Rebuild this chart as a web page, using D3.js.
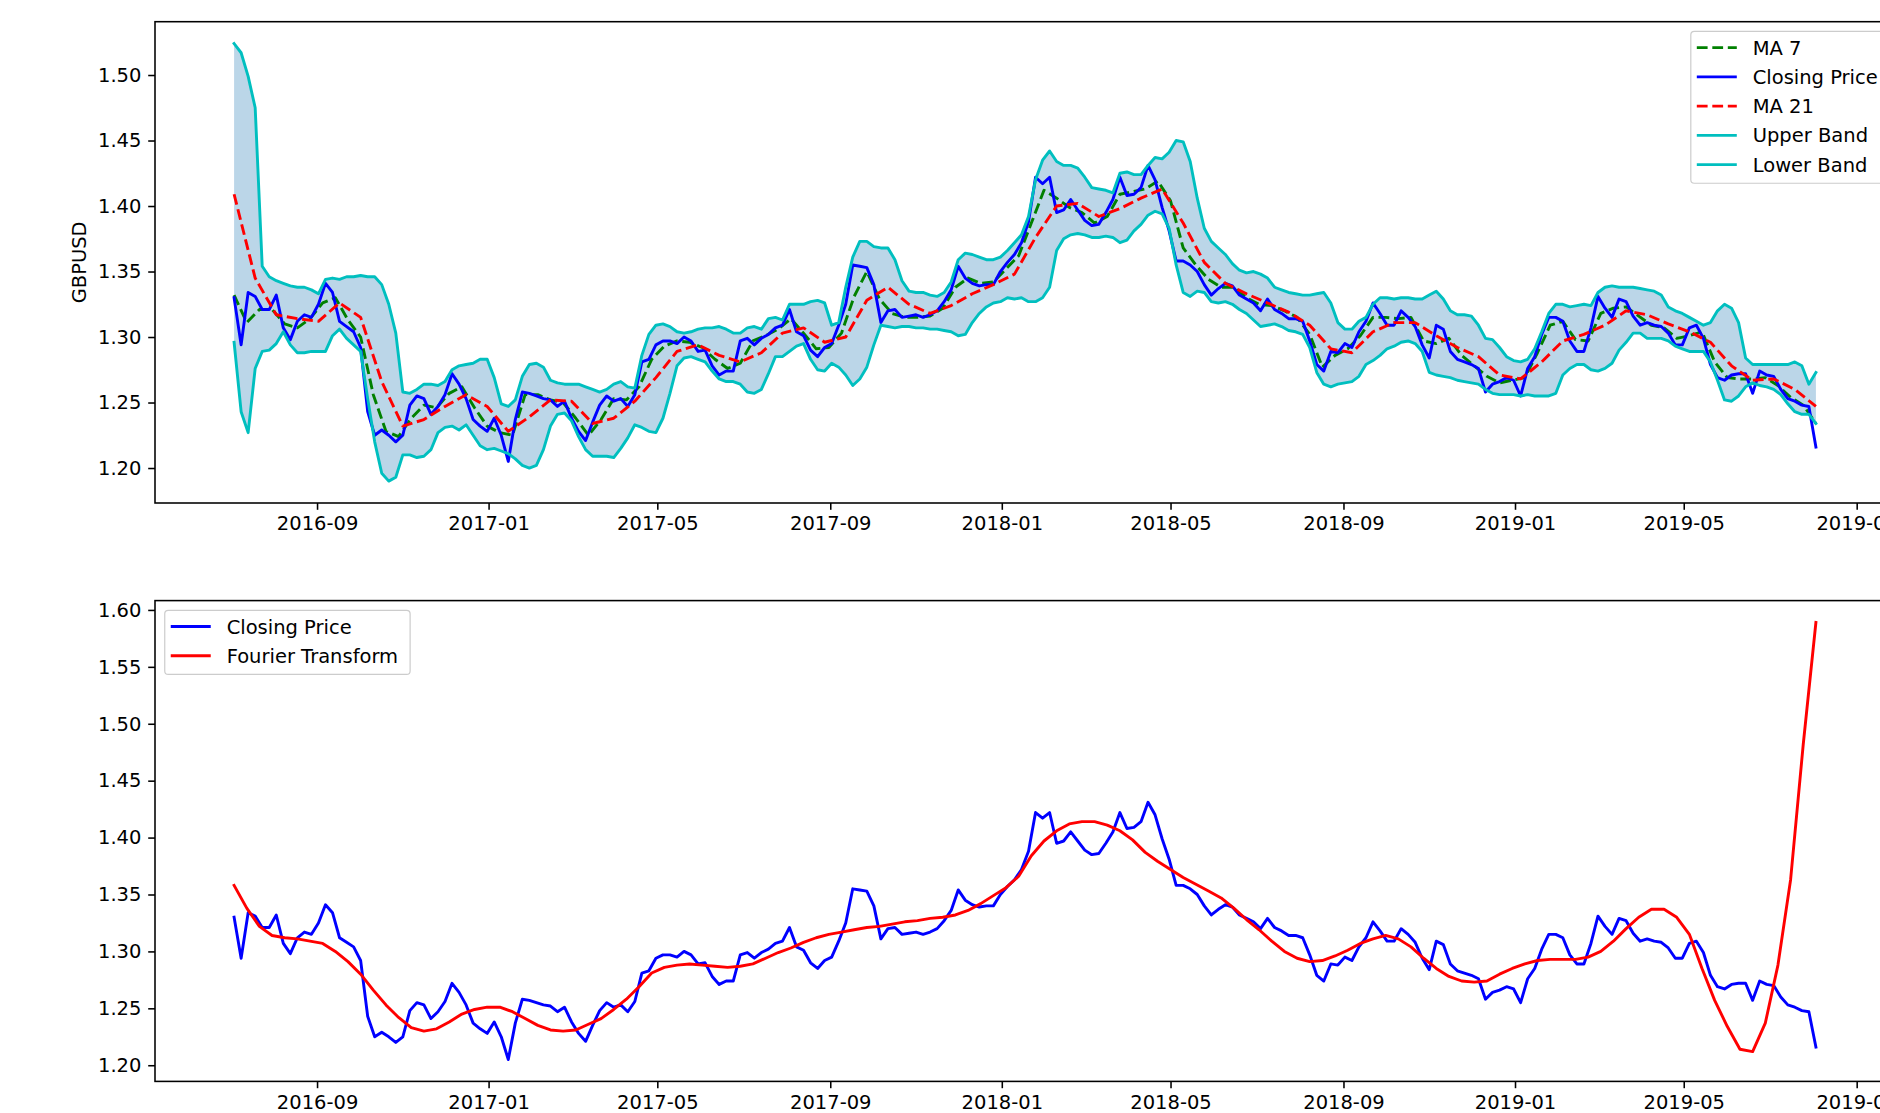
<!DOCTYPE html>
<html>
<head>
<meta charset="utf-8">
<script src="https://cdn.jsdelivr.net/npm/d3@7"></script>
<style>
  html, body { margin: 0; padding: 0; background: #fff; }
  svg { display: block; }
  text { font-family: "DejaVu Sans", sans-serif; fill: #000; }
</style>
</head>
<body>
<svg id="chart" width="1880" height="1113"></svg>
<script>
// ---------------------------------------------------------------
// GBPUSD daily series, sampled on regular calendar-day grids that
// all begin on the first trading day shown.
// ---------------------------------------------------------------
const seriesStart = "2016-07-04";
const closeStep = 5;     // days between closing-price / band samples
const ma7Step = 9;       // days between MA 7 samples
const ma21Step = 15;     // days between MA 21 samples
const fourierStep = 9;   // days between Fourier-transform samples

const closePrice = [
  1.330, 1.294, 1.334, 1.331, 1.321, 1.321, 1.332, 1.307, 1.298, 1.312,
  1.317, 1.315, 1.325, 1.341, 1.334, 1.312, 1.308, 1.304, 1.292, 1.243,
  1.225, 1.229, 1.225, 1.220, 1.225, 1.248, 1.255, 1.253, 1.241, 1.247,
  1.256, 1.272, 1.264, 1.253, 1.237, 1.232, 1.228, 1.238, 1.225, 1.205,
  1.237, 1.258, 1.257, 1.255, 1.253, 1.252, 1.247, 1.251, 1.238, 1.228,
  1.221, 1.235, 1.248, 1.255, 1.251, 1.253, 1.247, 1.256, 1.281, 1.283,
  1.294, 1.297, 1.297, 1.295, 1.300, 1.297, 1.289, 1.290, 1.278, 1.271,
  1.274, 1.274, 1.297, 1.299, 1.294, 1.299, 1.302, 1.307, 1.309, 1.321,
  1.304, 1.301, 1.290, 1.285, 1.292, 1.295, 1.309, 1.325, 1.355, 1.354,
  1.353, 1.340, 1.311, 1.320, 1.321, 1.315, 1.316, 1.317, 1.315, 1.317,
  1.320, 1.327, 1.336, 1.354, 1.345, 1.341, 1.339, 1.340, 1.340, 1.350,
  1.357, 1.363, 1.372, 1.388, 1.422, 1.417, 1.422, 1.395, 1.397, 1.405,
  1.397, 1.389, 1.385, 1.386, 1.395, 1.405, 1.422, 1.408, 1.409, 1.414,
  1.431, 1.420, 1.399, 1.381, 1.358, 1.358, 1.355, 1.350, 1.340, 1.332,
  1.337, 1.341, 1.339, 1.332, 1.329, 1.326, 1.320, 1.329, 1.321, 1.318,
  1.314, 1.314, 1.312, 1.297, 1.279, 1.274, 1.289, 1.288, 1.295, 1.292,
  1.304, 1.312, 1.326, 1.318, 1.309, 1.309, 1.320, 1.315, 1.308, 1.294,
  1.284, 1.309, 1.306, 1.289, 1.283, 1.281, 1.279, 1.276, 1.258, 1.264,
  1.266, 1.269, 1.267, 1.255, 1.276, 1.285, 1.302, 1.315, 1.315, 1.312,
  1.297, 1.289, 1.289, 1.307, 1.331, 1.322, 1.315, 1.329, 1.327, 1.316,
  1.309, 1.311, 1.309, 1.308, 1.303, 1.294, 1.294, 1.307, 1.309, 1.299,
  1.279, 1.269, 1.267, 1.271, 1.272, 1.272, 1.257, 1.274, 1.271, 1.270,
  1.260, 1.253, 1.251, 1.248, 1.247, 1.216
];

const upperBand = [
  1.524, 1.517, 1.499, 1.475, 1.354, 1.346, 1.343, 1.341, 1.339, 1.338,
  1.338, 1.336, 1.333, 1.344, 1.345, 1.344, 1.346, 1.346, 1.347, 1.346,
  1.346, 1.340, 1.325, 1.303, 1.258, 1.257, 1.260, 1.264, 1.264, 1.263,
  1.266, 1.275, 1.278, 1.279, 1.280, 1.283, 1.283, 1.269, 1.249, 1.247,
  1.252, 1.270, 1.279, 1.280, 1.277, 1.267, 1.265, 1.264, 1.264, 1.264,
  1.262, 1.260, 1.258, 1.260, 1.264, 1.266, 1.262, 1.261, 1.286, 1.302,
  1.309, 1.310, 1.308, 1.304, 1.303, 1.304, 1.306, 1.307, 1.307, 1.308,
  1.306, 1.303, 1.303, 1.307, 1.308, 1.306, 1.314, 1.315, 1.313, 1.325,
  1.325, 1.325, 1.327, 1.328, 1.326, 1.309, 1.311, 1.338, 1.361, 1.373,
  1.373, 1.369, 1.368, 1.368, 1.359, 1.343, 1.335, 1.334, 1.334, 1.332,
  1.331, 1.334, 1.342, 1.359, 1.364, 1.363, 1.361, 1.359, 1.359, 1.361,
  1.366, 1.372, 1.378, 1.392, 1.420, 1.435, 1.442, 1.434, 1.431, 1.431,
  1.429, 1.422, 1.414, 1.413, 1.412, 1.410, 1.425, 1.426, 1.424, 1.424,
  1.431, 1.437, 1.436, 1.441, 1.450, 1.449, 1.434, 1.406, 1.383, 1.373,
  1.368, 1.363, 1.356, 1.351, 1.349, 1.350, 1.348, 1.345, 1.338, 1.336,
  1.334, 1.333, 1.332, 1.332, 1.333, 1.334, 1.326, 1.311, 1.306, 1.306,
  1.312, 1.315, 1.325, 1.330, 1.330, 1.329, 1.330, 1.330, 1.329, 1.329,
  1.332, 1.335, 1.329, 1.320, 1.317, 1.317, 1.316, 1.309, 1.299, 1.298,
  1.292, 1.285, 1.282, 1.281, 1.283, 1.291, 1.304, 1.318, 1.325, 1.325,
  1.323, 1.324, 1.325, 1.324, 1.334, 1.338, 1.339, 1.338, 1.338, 1.338,
  1.337, 1.336, 1.335, 1.332, 1.323, 1.320, 1.318, 1.315, 1.312, 1.309,
  1.311, 1.320, 1.325, 1.322, 1.311, 1.284, 1.279, 1.279, 1.279, 1.279,
  1.279, 1.279, 1.281, 1.278, 1.264, 1.273
];

const lowerBand = [
  1.296, 1.243, 1.227, 1.276, 1.289, 1.290, 1.295, 1.304, 1.294, 1.288,
  1.288, 1.289, 1.289, 1.289, 1.301, 1.306, 1.299, 1.294, 1.289, 1.253,
  1.220, 1.196, 1.190, 1.193, 1.210, 1.210, 1.208, 1.209, 1.214, 1.227,
  1.231, 1.232, 1.229, 1.233, 1.225, 1.217, 1.214, 1.215, 1.213, 1.211,
  1.207, 1.202, 1.200, 1.202, 1.214, 1.232, 1.241, 1.242, 1.236, 1.224,
  1.214, 1.209, 1.209, 1.209, 1.208, 1.215, 1.223, 1.233, 1.231, 1.228,
  1.227, 1.238, 1.257, 1.278, 1.284, 1.285, 1.283, 1.281, 1.274, 1.268,
  1.266, 1.266, 1.264, 1.258, 1.257, 1.260, 1.272, 1.285, 1.285, 1.289,
  1.293, 1.295, 1.283, 1.275, 1.274, 1.280, 1.277, 1.271, 1.263, 1.268,
  1.277, 1.294, 1.309, 1.308, 1.307, 1.308, 1.308, 1.307, 1.307, 1.306,
  1.306, 1.305, 1.304, 1.301, 1.302, 1.311, 1.318, 1.323, 1.326, 1.327,
  1.330, 1.329, 1.330, 1.327, 1.327, 1.330, 1.338, 1.366, 1.375, 1.378,
  1.379, 1.378, 1.376, 1.376, 1.377, 1.376, 1.372, 1.374, 1.381, 1.386,
  1.393, 1.396, 1.394, 1.383, 1.355, 1.334, 1.331, 1.335, 1.334, 1.327,
  1.326, 1.327, 1.325, 1.321, 1.318, 1.313, 1.308, 1.309, 1.310, 1.308,
  1.305, 1.304, 1.302, 1.292, 1.273, 1.264, 1.262, 1.264, 1.265, 1.266,
  1.270, 1.279, 1.282, 1.286, 1.291, 1.293, 1.296, 1.297, 1.295, 1.289,
  1.273, 1.271, 1.270, 1.269, 1.267, 1.266, 1.265, 1.264, 1.260, 1.257,
  1.256, 1.256, 1.256, 1.255, 1.256, 1.255, 1.255, 1.255, 1.257, 1.271,
  1.276, 1.279, 1.279, 1.275, 1.274, 1.276, 1.280, 1.290, 1.296, 1.303,
  1.303, 1.299, 1.299, 1.299, 1.297, 1.293, 1.291, 1.289, 1.289, 1.289,
  1.281, 1.267, 1.252, 1.251, 1.255, 1.262, 1.265, 1.263, 1.262, 1.260,
  1.256, 1.249, 1.243, 1.241, 1.241, 1.234
];

const ma7 = [
  1.332, 1.311, 1.321, 1.321, 1.310, 1.307, 1.314, 1.326, 1.330, 1.313,
  1.300, 1.256, 1.228, 1.224, 1.238, 1.248, 1.246, 1.257, 1.262, 1.246,
  1.232, 1.227, 1.225, 1.256, 1.256, 1.252, 1.250, 1.238, 1.225, 1.237,
  1.253, 1.252, 1.262, 1.283, 1.293, 1.297, 1.296, 1.292, 1.283, 1.276,
  1.280, 1.297, 1.301, 1.306, 1.314, 1.303, 1.291, 1.292, 1.303, 1.331,
  1.350, 1.329, 1.318, 1.315, 1.315, 1.316, 1.322, 1.338, 1.345, 1.341,
  1.342, 1.352, 1.362, 1.387, 1.412, 1.406, 1.399, 1.395, 1.387, 1.392,
  1.409, 1.411, 1.413, 1.419, 1.404, 1.368, 1.355, 1.344, 1.338, 1.338,
  1.330, 1.325, 1.324, 1.320, 1.315, 1.302, 1.277, 1.286, 1.291, 1.301,
  1.315, 1.315, 1.314, 1.315, 1.297, 1.295, 1.299, 1.286, 1.278, 1.270,
  1.265, 1.267, 1.269, 1.288, 1.309, 1.312, 1.298, 1.297, 1.318, 1.322,
  1.323, 1.316, 1.309, 1.307, 1.299, 1.301, 1.304, 1.281, 1.269, 1.268,
  1.268, 1.269, 1.263, 1.254, 1.248, 1.234
];

const ma21 = [
  1.409, 1.345, 1.317, 1.314, 1.312, 1.326, 1.315, 1.266, 1.232, 1.237,
  1.247, 1.256, 1.247, 1.228, 1.239, 1.252, 1.251, 1.234, 1.238, 1.251,
  1.269, 1.289, 1.294, 1.286, 1.281, 1.288, 1.303, 1.307, 1.296, 1.300,
  1.328, 1.338, 1.325, 1.318, 1.324, 1.333, 1.340, 1.348, 1.376, 1.400,
  1.402, 1.392, 1.398, 1.406, 1.413, 1.387, 1.357, 1.341, 1.333, 1.326,
  1.319, 1.309, 1.291, 1.288, 1.304, 1.311, 1.311, 1.301, 1.292, 1.285,
  1.271, 1.268, 1.281, 1.297, 1.302, 1.309, 1.320, 1.317, 1.310, 1.304,
  1.296, 1.278, 1.267, 1.268, 1.260, 1.247
];

const fourierTransform = [
  1.358, 1.338, 1.322, 1.314, 1.312, 1.311, 1.309, 1.307, 1.300, 1.291,
  1.280, 1.266, 1.253, 1.242, 1.233, 1.230, 1.232, 1.238, 1.245, 1.249,
  1.251, 1.251, 1.247, 1.241, 1.235, 1.231, 1.230, 1.231, 1.236, 1.241,
  1.249, 1.258, 1.269, 1.281, 1.286, 1.288, 1.289, 1.288, 1.287, 1.286,
  1.287, 1.289, 1.294, 1.299, 1.303, 1.308, 1.312, 1.315, 1.317, 1.319,
  1.321, 1.322, 1.324, 1.326, 1.327, 1.329, 1.330, 1.332, 1.336, 1.342,
  1.349, 1.356, 1.366, 1.384, 1.397, 1.406, 1.412, 1.414, 1.414, 1.411,
  1.406, 1.398, 1.387, 1.379, 1.372, 1.365, 1.359, 1.353, 1.347, 1.338,
  1.328, 1.319, 1.309, 1.300, 1.294, 1.291, 1.292, 1.296, 1.301, 1.307,
  1.311, 1.314, 1.311, 1.304, 1.294, 1.285, 1.278, 1.274, 1.273, 1.274,
  1.280, 1.285, 1.289, 1.292, 1.293, 1.293, 1.293, 1.295, 1.300, 1.309,
  1.320, 1.330, 1.337, 1.337, 1.330, 1.315, 1.285, 1.257, 1.234, 1.214,
  1.212, 1.237, 1.288, 1.363, 1.482, 1.589
];

const dateTickLabels = ["2016-09", "2017-01", "2017-05", "2017-09", "2018-01",
                        "2018-05", "2018-09", "2019-01", "2019-05", "2019-09"];
const topPriceTicks = [1.20, 1.25, 1.30, 1.35, 1.40, 1.45, 1.50];
const bottomPriceTicks = [1.20, 1.25, 1.30, 1.35, 1.40, 1.45, 1.50, 1.55, 1.60];

// ---------------------------------------------------------------
// Layout and styling
// ---------------------------------------------------------------
const FONT = 19.5;             // px, tick and legend text
const LW = 2.9;                // data line width
const SPINE = 1.56;            // axes frame width
const TICK = 6.8;              // tick length / padding
const DASH = "10.8,4.7";
const axLeft = 155, axRight = 1895;
const topPanel = { top: 21.7, bottom: 503 };
const bottomPanel = { top: 600.6, bottom: 1081.4 };
const colors = { close: "#0000ff", ma7: "#008000", ma21: "#ff0000", band: "#00bfbf",
                 fill: "#1f77b4", fourier: "#ff0000" };

const svg = d3.select("#chart");
svg.append("rect").attr("width", 1880).attr("height", 1113).attr("fill", "#fff");

const start = d3.utcParse("%Y-%m-%d")(seriesStart);
const toPoints = (values, step) =>
  values.map((v, i) => ({ date: d3.utcDay.offset(start, i * step), value: v }));

const closePts = toPoints(closePrice, closeStep);
const upperPts = toPoints(upperBand, closeStep);
const lowerPts = toPoints(lowerBand, closeStep);
const ma7Pts = toPoints(ma7, ma7Step);
const ma21Pts = toPoints(ma21, ma21Step);
const fourierPts = toPoints(fourierTransform, fourierStep);
const bandPts = upperPts.map((d, i) => ({ date: d.date, hi: d.value, lo: lowerPts[i].value }));

// matplotlib-style 5% data margins
function padded(lo, hi) { const m = (hi - lo) * 0.05; return [lo - m, hi + m]; }

const allDates = [...closePts, ...ma7Pts, ...ma21Pts, ...fourierPts].map(d => +d.date);
const xDom = padded(d3.min(allDates), d3.max(allDates)).map(t => new Date(t));
const x = d3.scaleUtc().domain(xDom).range([axLeft, axRight]);

const topVals = [...closePrice, ...upperBand, ...lowerBand, ...ma7, ...ma21];
const yTop = d3.scaleLinear().domain(padded(d3.min(topVals), d3.max(topVals)))
  .range([topPanel.bottom, topPanel.top]);
const botVals = [...closePrice, ...fourierTransform];
const yBot = d3.scaleLinear().domain(padded(d3.min(botVals), d3.max(botVals)))
  .range([bottomPanel.bottom, bottomPanel.top]);

const tickDates = dateTickLabels.map(s => d3.utcParse("%Y-%m")(s));

function drawAxes(y, panel, yTicks) {
  const g = svg.append("g");
  const xa = g.append("g").attr("transform", `translate(0,${panel.bottom})`)
    .call(d3.axisBottom(x).tickValues(tickDates).tickFormat(d3.utcFormat("%Y-%m"))
      .tickSize(TICK).tickPadding(TICK));
  const ya = g.append("g").attr("transform", `translate(${axLeft},0)`)
    .call(d3.axisLeft(y).tickValues(yTicks).tickFormat(d3.format(".2f"))
      .tickSize(TICK).tickPadding(TICK));
  [xa, ya].forEach(a => {
    a.select(".domain").remove();
    a.selectAll(".tick line").attr("stroke", "#000").attr("stroke-width", SPINE);
    a.selectAll(".tick text").attr("font-size", FONT).attr("fill", "#000")
      .attr("font-family", "DejaVu Sans");
  });
  // axes frame
  g.append("rect").attr("x", axLeft).attr("y", panel.top)
    .attr("width", axRight - axLeft).attr("height", panel.bottom - panel.top)
    .attr("fill", "none").attr("stroke", "#000").attr("stroke-width", SPINE);
}

function drawLine(pts, y, color, dashed) {
  svg.append("path").datum(pts)
    .attr("d", d3.line().x(d => x(d.date)).y(d => y(d.value)))
    .attr("fill", "none").attr("stroke", color).attr("stroke-width", LW)
    .attr("stroke-linejoin", "round")
    .attr("stroke-linecap", dashed ? "butt" : "square")
    .attr("stroke-dasharray", dashed ? DASH : null);
}

function drawLegend(items, opts) {
  const g = svg.append("g");
  const rowGap = 29.25, firstRow = 16.2, lastPad = 18.6;
  const h = firstRow + (items.length - 1) * rowGap + lastPad;
  const box = g.append("rect");
  const texts = items.map((it, i) =>
    g.append("text").text(it.label).attr("font-size", FONT)
      .attr("dy", "0.36em"));
  const tw = d3.max(texts, t => t.node().getComputedTextLength());
  const w = 6 + 40 + 15.9 + tw + opts.rightPad;
  const left = opts.anchor === "right" ? opts.x - w : opts.x;
  const top = opts.y;
  box.attr("x", left).attr("y", top).attr("width", w).attr("height", h)
    .attr("rx", 3.5).attr("fill", "#fff").attr("fill-opacity", 0.8)
    .attr("stroke", "#cccccc").attr("stroke-width", 1.2);
  items.forEach((it, i) => {
    const cy = top + firstRow + i * rowGap;
    g.append("line").attr("x1", left + 6).attr("x2", left + 46)
      .attr("y1", cy).attr("y2", cy)
      .attr("stroke", it.color).attr("stroke-width", LW)
      .attr("stroke-dasharray", it.dashed ? DASH : null);
    texts[i].attr("x", left + 61.9).attr("y", cy);
  });
}

// ---------------- Top panel: Bollinger bands ----------------
svg.append("path").datum(bandPts)
  .attr("d", d3.area().x(d => x(d.date)).y0(d => yTop(d.lo)).y1(d => yTop(d.hi)))
  .attr("fill", colors.fill).attr("fill-opacity", 0.3);
drawLine(ma7Pts, yTop, colors.ma7, true);
drawLine(closePts, yTop, colors.close, false);
drawLine(ma21Pts, yTop, colors.ma21, true);
drawLine(upperPts, yTop, colors.band, false);
drawLine(lowerPts, yTop, colors.band, false);
drawAxes(yTop, topPanel, topPriceTicks);

svg.append("text").text("GBPUSD")
  .attr("transform", `translate(79,${(topPanel.top + topPanel.bottom) / 2}) rotate(-90)`)
  .attr("text-anchor", "middle").attr("dy", "0.36em").attr("font-size", FONT);

drawLegend([
  { label: "MA 7", color: colors.ma7, dashed: true },
  { label: "Closing Price", color: colors.close },
  { label: "MA 21", color: colors.ma21, dashed: true },
  { label: "Upper Band", color: colors.band },
  { label: "Lower Band", color: colors.band }
], { x: axRight - 9.75, y: topPanel.top + 9.75, anchor: "right", rightPad: 7.5 });

// ---------------- Bottom panel: Fourier approximation ----------------
drawLine(closePts, yBot, colors.close, false);
drawLine(fourierPts, yBot, colors.fourier, false);
drawAxes(yBot, bottomPanel, bottomPriceTicks);

drawLegend([
  { label: "Closing Price", color: colors.close },
  { label: "Fourier Transform", color: colors.fourier }
], { x: axLeft + 9.75, y: bottomPanel.top + 9.75, anchor: "left", rightPad: 12 });
</script>
</body>
</html>
